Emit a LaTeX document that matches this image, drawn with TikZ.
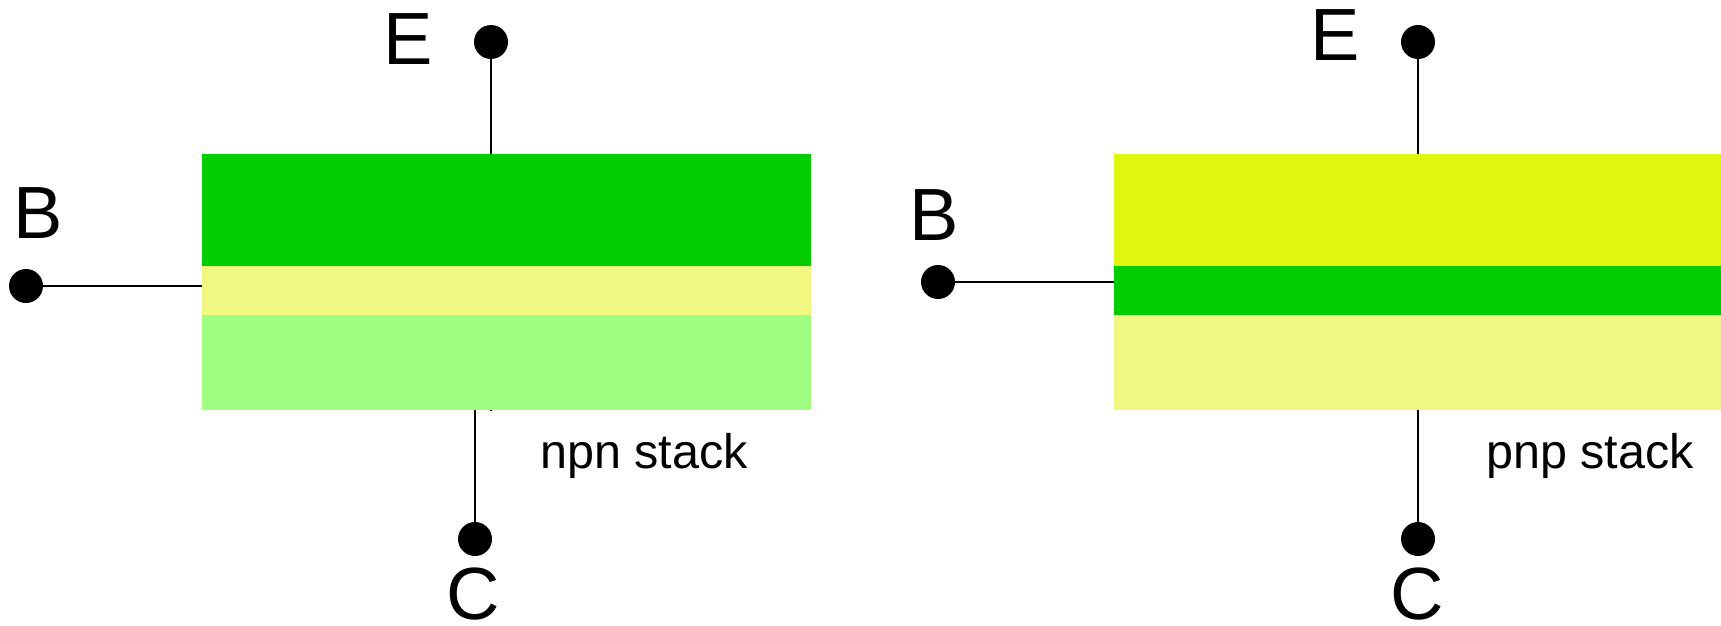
\documentclass[tikz,border=0pt]{standalone}
\usepackage{fontspec}
\setmainfont{Liberation Sans}
\definecolor{dkgreen}{RGB}{0,204,0}
\definecolor{paleyellow}{RGB}{240,248,130}
\definecolor{ltgreen}{RGB}{160,255,128}
\definecolor{limeyellow}{RGB}{223,247,13}
\begin{document}
\begin{tikzpicture}[x=1pt,y=-1pt,
  layer/.style={draw=none,rectangle,inner sep=0pt,outer sep=0pt,anchor=north west},
  term/.style={circle,fill=black,inner sep=0pt,minimum size=34pt},
  wire/.style={line width=1.7pt},
  lbl/.style={font=\fontsize{74}{74}\selectfont,inner sep=0pt,anchor=base},
  captxt/.style={font=\fontsize{48.5}{48.5}\selectfont,inner sep=0pt,anchor=base west}]
\useasboundingbox (0,0) rectangle (1721,626);
% npn stack
\node[layer,fill=dkgreen,minimum width=609pt,minimum height=112pt] (n1) at (202,154) {};
\node[layer,fill=paleyellow,minimum width=609pt,minimum height=49pt] (n2) at (202,266) {};
\node[layer,fill=ltgreen,minimum width=609pt,minimum height=95pt] (n3) at (202,315) {};
\node[term] (eL) at (491,42) {};
\node[term] (bL) at (26,286) {};
\node[term] (cL) at (475,539) {};
\coordinate (tickL) at (491,411);
\draw[wire] (eL) -- (eL |- n1.north);
\draw[wire] (bL) -- (bL -| n2.west);
\draw[wire] (cL) -- (cL |- n3.south);
\draw[wire] (n3.south -| tickL) -- (tickL);
\node[lbl] (ElL) at (408,64) {E};
\node[lbl] (BlL) at (38.5,238) {B};
\node[lbl] (ClL) at (473,619) {C};
\node[captxt] (npn) at (540,468) {npn stack};
% pnp stack
\node[layer,fill=limeyellow,minimum width=607pt,minimum height=112pt] (p1) at (1114,154) {};
\node[layer,fill=dkgreen,minimum width=607pt,minimum height=49pt] (p2) at (1114,266) {};
\node[layer,fill=paleyellow,minimum width=607pt,minimum height=95pt] (p3) at (1114,315) {};
\node[term] (eR) at (1418,42) {};
\node[term] (bR) at (938,282) {};
\node[term] (cR) at (1418,539) {};
\draw[wire] (eR) -- (eR |- p1.north);
\draw[wire] (bR) -- (bR -| p2.west);
\draw[wire] (cR) -- (cR |- p3.south);
\node[lbl] (ElR) at (1335,60) {E};
\node[lbl] (BlR) at (934,240) {B};
\node[lbl] (ClR) at (1417,619) {C};
\node[captxt] (pnp) at (1486,468) {pnp stack};
\end{tikzpicture}
\end{document}
